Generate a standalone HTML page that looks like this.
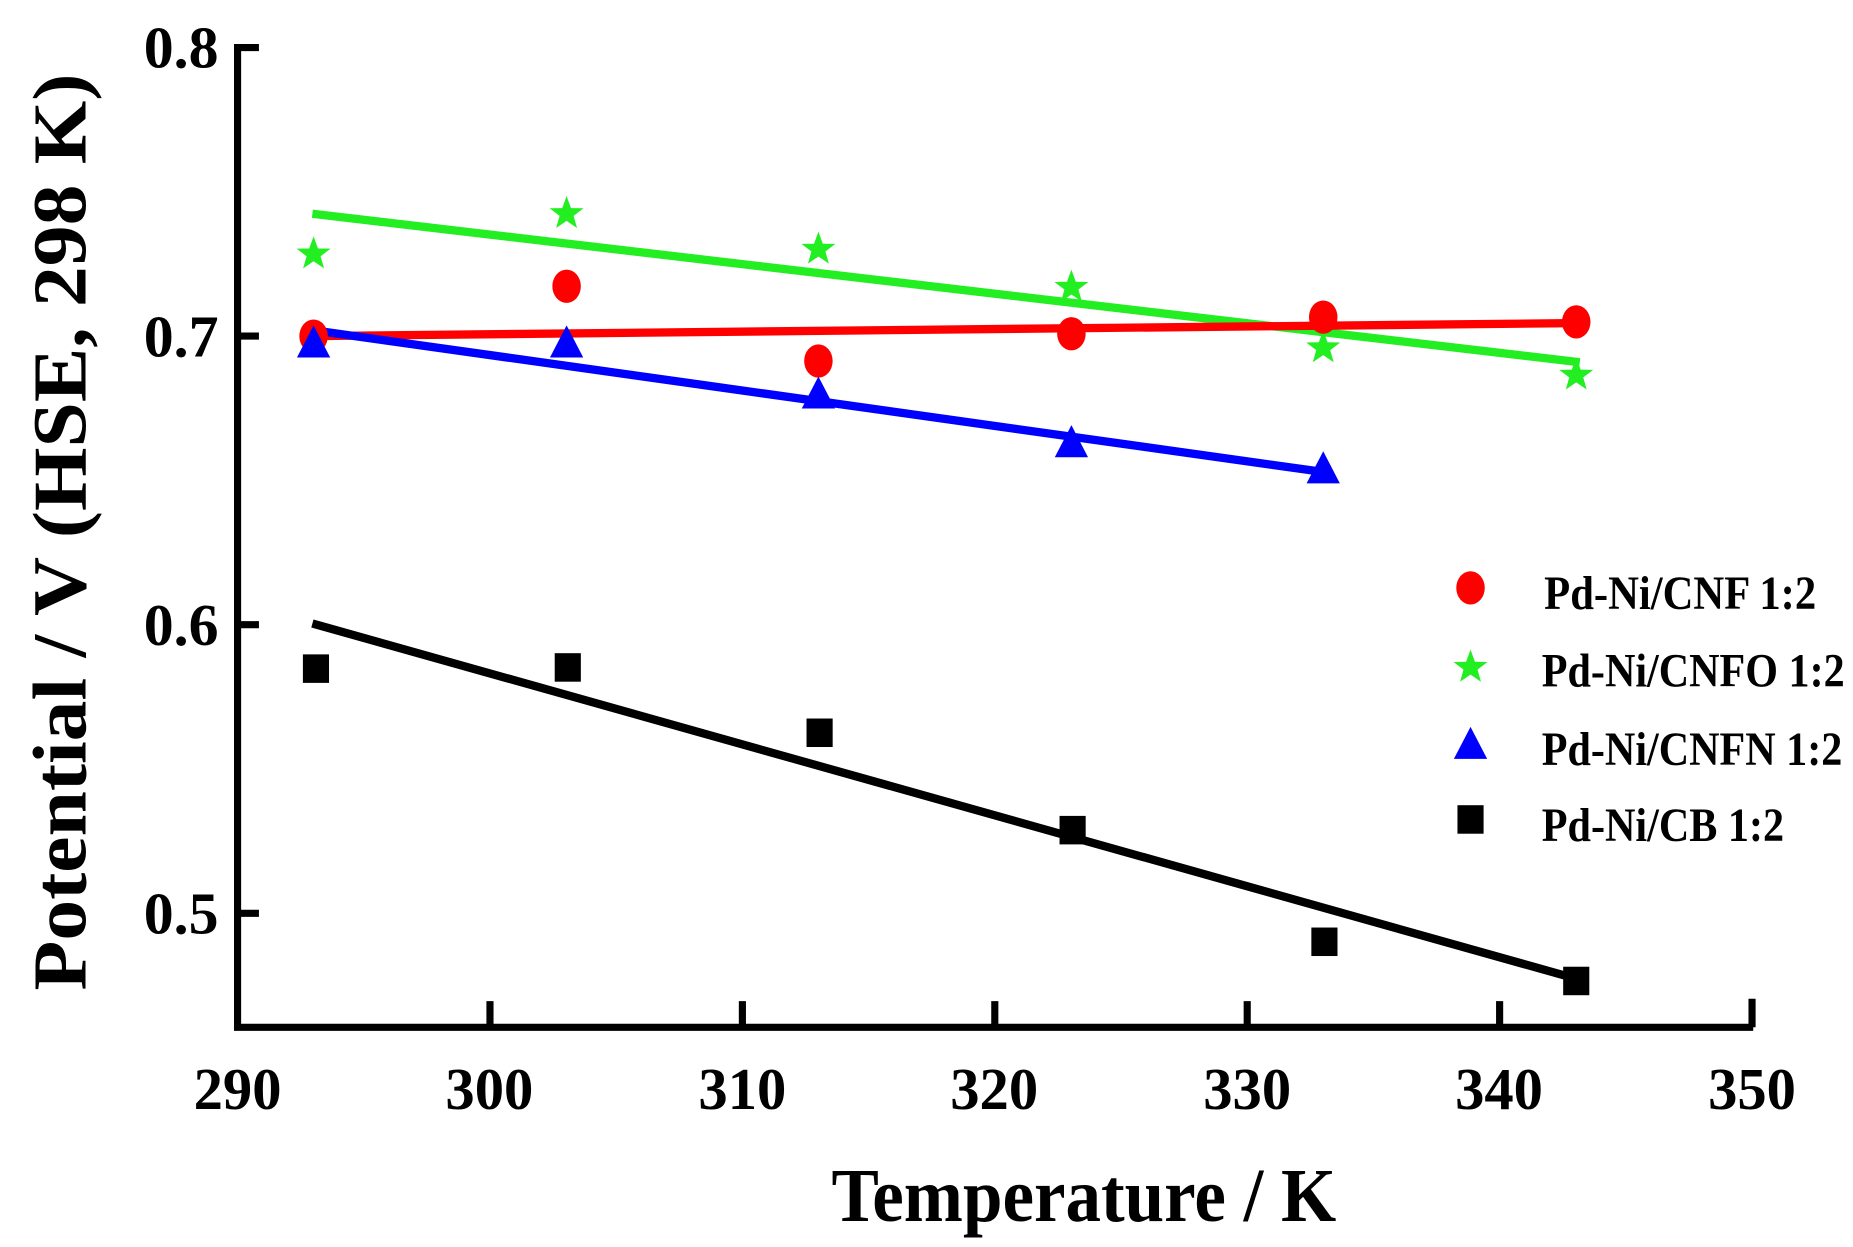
<!DOCTYPE html>
<html><head><meta charset="utf-8"><style>html,body{margin:0;padding:0;background:#fff}svg{display:block}</style></head>
<body>
<svg width="1853" height="1247" viewBox="0 0 1560 1050" preserveAspectRatio="none" xmlns="http://www.w3.org/2000/svg" font-family="Liberation Serif, serif" font-weight="bold">
<rect width="1560" height="1050" fill="#fff"/>
<g stroke="#000" stroke-width="6" fill="none">
<path d="M200,37 V865 H1476"/>
<path d="M200,40 H218 M200,283 H218 M200,526 H218 M200,769 H218"/>
<path d="M412.5,865 V843 M625,865 V843 M837.5,865 V843 M1050,865 V843 M1262.5,865 V843 M1475,865 V841"/>
</g>
<g font-size="50" text-anchor="end">
<text x="184" y="57" textLength="63" lengthAdjust="spacingAndGlyphs">0.8</text><text x="184" y="300" textLength="63" lengthAdjust="spacingAndGlyphs">0.7</text><text x="184" y="543" textLength="63" lengthAdjust="spacingAndGlyphs">0.6</text><text x="184" y="786" textLength="63" lengthAdjust="spacingAndGlyphs">0.5</text>
</g>
<g font-size="50" text-anchor="middle">
<text x="200" y="934" textLength="74" lengthAdjust="spacingAndGlyphs">290</text><text x="412" y="934" textLength="74" lengthAdjust="spacingAndGlyphs">300</text><text x="625" y="934" textLength="74" lengthAdjust="spacingAndGlyphs">310</text><text x="837" y="934" textLength="74" lengthAdjust="spacingAndGlyphs">320</text><text x="1050" y="934" textLength="74" lengthAdjust="spacingAndGlyphs">330</text><text x="1262" y="934" textLength="74" lengthAdjust="spacingAndGlyphs">340</text><text x="1475" y="934" textLength="74" lengthAdjust="spacingAndGlyphs">350</text>
</g>
<text x="700" y="1028" font-size="64" textLength="425" lengthAdjust="spacingAndGlyphs">Temperature / K</text>
<text transform="translate(72,834) rotate(-90)" font-size="64" textLength="772" lengthAdjust="spacingAndGlyphs">Potential / V (HSE, 298 K)</text>
<g stroke-width="7" fill="none">
<line x1="263" y1="180" x2="1330" y2="305" stroke="#22ee22"/>
<line x1="263" y1="283" x2="1330" y2="272" stroke="#ff0000"/>
<line x1="263" y1="278" x2="1118" y2="398" stroke="#0000ff"/>
<line x1="263" y1="525" x2="1330" y2="825" stroke="#000"/>
</g>
<defs>
<polygon id="st" points="0,-15 3.7,-4.8 14.3,-4.6 5.9,1.8 8.8,12 0,6 -8.8,12 -5.9,1.8 -14.3,-4.6 -3.7,-4.8" fill="#22ee22"/>
<ellipse id="ci" rx="12" ry="14" fill="#ff0000"/>
<polygon id="tr" points="0,-15 14,12 -14,12" fill="#0000ff"/>
<rect id="sq" x="-11" y="-12" width="22" height="24" fill="#000"/>
</defs>
<g>
<use href="#st" x="264" y="214"/><use href="#st" x="477" y="180"/><use href="#st" x="689" y="210"/><use href="#st" x="902" y="242"/><use href="#st" x="1114" y="293"/><use href="#st" x="1327" y="316"/>
<use href="#ci" x="264" y="283"/><use href="#ci" x="477" y="241"/><use href="#ci" x="689" y="304"/><use href="#ci" x="902" y="281"/><use href="#ci" x="1114" y="267"/><use href="#ci" x="1327" y="271"/>
<use href="#tr" x="264" y="289"/><use href="#tr" x="477" y="289"/><use href="#tr" x="689" y="332"/><use href="#tr" x="902" y="373"/><use href="#tr" x="1114" y="395"/>
<use href="#sq" x="266" y="563"/><use href="#sq" x="478" y="562"/><use href="#sq" x="690" y="617"/><use href="#sq" x="903" y="699"/><use href="#sq" x="1115" y="793"/><use href="#sq" x="1327" y="826"/>
<use href="#ci" x="1238" y="495"/><use href="#st" x="1238" y="562"/><use href="#tr" x="1238" y="627"/><use href="#sq" x="1238" y="690"/>
</g>
<g font-size="40">
<text x="1300" y="513" textLength="229" lengthAdjust="spacingAndGlyphs">Pd-Ni/CNF 1:2</text>
<text x="1298" y="578" textLength="255" lengthAdjust="spacingAndGlyphs">Pd-Ni/CNFO 1:2</text>
<text x="1298" y="644" textLength="253" lengthAdjust="spacingAndGlyphs">Pd-Ni/CNFN 1:2</text>
<text x="1298" y="708" textLength="204" lengthAdjust="spacingAndGlyphs">Pd-Ni/CB 1:2</text>
</g>
</svg>
</body></html>
